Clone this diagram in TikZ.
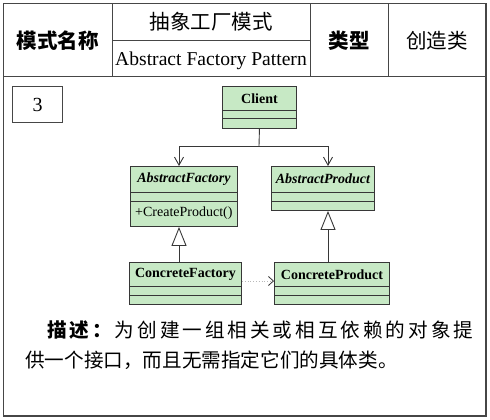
\documentclass[tikz,border=0pt]{standalone}
\usepackage{fontspec}
\setmainfont{Liberation Serif}
\newfontfamily\cjk{Noto Sans CJK SC}
\usetikzlibrary{arrows.meta}
\definecolor{umlfill}{RGB}{199,233,197}
\definecolor{framecol}{RGB}{70,70,70}
\definecolor{umlline}{RGB}{55,55,55}
\newcommand\myclass[7]{%
  \node[umlbox, minimum width=#4pt, minimum height=#5pt] (#1) at (#2,#3) {};
  \draw[umlline, line width=0.9pt] ([yshift=-#6pt]#1.north west) -- ([yshift=-#6pt]#1.north east);
  \draw[umlline, line width=0.9pt] ([yshift=-#7pt]#1.north west) -- ([yshift=-#7pt]#1.north east);
}
\begin{document}
\begin{tikzpicture}[x=1pt,y=-1pt,
  umlbox/.style={draw=umlline, fill=umlfill, line width=0.9pt, anchor=north west, inner sep=0pt},
  cname/.style={inner sep=0pt, font=\fontsize{14}{16}\selectfont\bfseries},
  aname/.style={inner sep=0pt, font=\fontsize{14}{16}\selectfont\bfseries\itshape},
  opname/.style={inner sep=0pt, anchor=west, font=\fontsize{14}{16}\selectfont},
  hdr/.style={inner sep=0pt, font=\fontsize{20.5}{22}\selectfont\cjk},
  hdrb/.style={inner sep=0pt, font=\fontsize{20.5}{22}\selectfont\cjk\bfseries},
  gridline/.style={draw=framecol, line width=1pt},
  assoc/.style={draw=umlline, line width=0.9pt, -{Straight Barb[length=8pt,width=9pt]}},
  inherit/.style={draw=umlline, line width=0.9pt, -{Triangle[open, length=19pt, width=15pt, fill=white]}},
  depend/.style={draw=gray!55, line width=0.8pt, dotted, -{Straight Barb[length=5pt,width=9pt, color=umlline, sep=0pt]}},
  desc/.style={inner sep=0pt, anchor=west, font=\fontsize{19.6}{22}\selectfont\cjk}
]
\useasboundingbox (0,0) rectangle (490,420);
% frame and header grid
\draw[gridline, line width=1.3pt] (3.5,3.5) rectangle (486,416);
\draw[gridline] (3.5,77) -- (486,77);
\draw[gridline] (112,3.5) -- (112,77);
\draw[gridline] (310,3.5) -- (310,77);
\draw[gridline] (388,3.5) -- (388,77);
\draw[gridline] (112,41) -- (310,41);
\node[hdrb] (h1) at (57.5,41) {模式名称};
\node[hdr] (h2) at (211,22) {抽象工厂模式};
\node[inner sep=0pt, font=\fontsize{19.6}{22}\selectfont] (h3) at (211,61) {Abstract Factory Pattern};
\node[hdrb] (h4) at (349,41) {类型};
\node[hdr] (h5) at (437,41) {创造类};
% number box
\node[draw=framecol, line width=1pt, minimum width=50pt, minimum height=36pt, inner sep=0pt,
      anchor=north west, font=\fontsize{20}{22}\selectfont] (num) at (12,86) {3};
% classes
\myclass{client}{222}{86}{74}{42}{24}{32}
\myclass{af}{130}{166}{107}{60}{26}{35}
\myclass{ap}{271}{166}{103}{44}{26}{35}
\myclass{cf}{129}{262}{112}{42}{24}{33}
\myclass{cp}{274}{262}{115}{42}{24}{33}
\node[cname] (clientname) at ([yshift=-12.5pt]client.north) {Client};
\node[aname] (afname) at ([yshift=-13pt]af.north) {AbstractFactory};
\node[opname] (afop) at ([xshift=5pt,yshift=-47.5pt]af.north west) {+CreateProduct()};
\node[aname] (apname) at ([yshift=-13pt]ap.north) {AbstractProduct};
\node[cname] (cfname) at ([yshift=-12.5pt]cf.north) {ConcreteFactory};
\node[cname] (cpname) at ([yshift=-12.5pt]cp.north) {ConcreteProduct};
% connectors
\coordinate (afx) at (179,0);
\coordinate (apx) at (328,0);
\coordinate (junc) at (259,146);
\draw[draw=umlline, line width=0.9pt] (client.south) -- (junc);
\draw[assoc] (junc) -| (af.north -| afx);
\draw[assoc] (junc) -| (ap.north -| apx);
\draw[inherit] (cf.north -| afx) -- (af.south -| afx);
\draw[inherit] (cp.north -| apx) -- (ap.south -| apx);
\draw[depend] ([yshift=-19pt]cf.north east) -- ([yshift=-19pt]cp.north west);
% description
\node[desc] (d1) at (47,330.5) {\makebox[426pt][s]{\bfseries 描\hfill 述\hfill ：\hfill\mdseries 为\hfill 创\hfill 建\hfill 一\hfill 组\hfill 相\hfill 关\hfill 或\hfill 相\hfill 互\hfill 依\hfill 赖\hfill 的\hfill 对\hfill 象\hfill 提}};
\node[desc] (d2) at (25,360) {供一个接口，而且无需指定它们的具体类。};
\end{tikzpicture}
\end{document}
